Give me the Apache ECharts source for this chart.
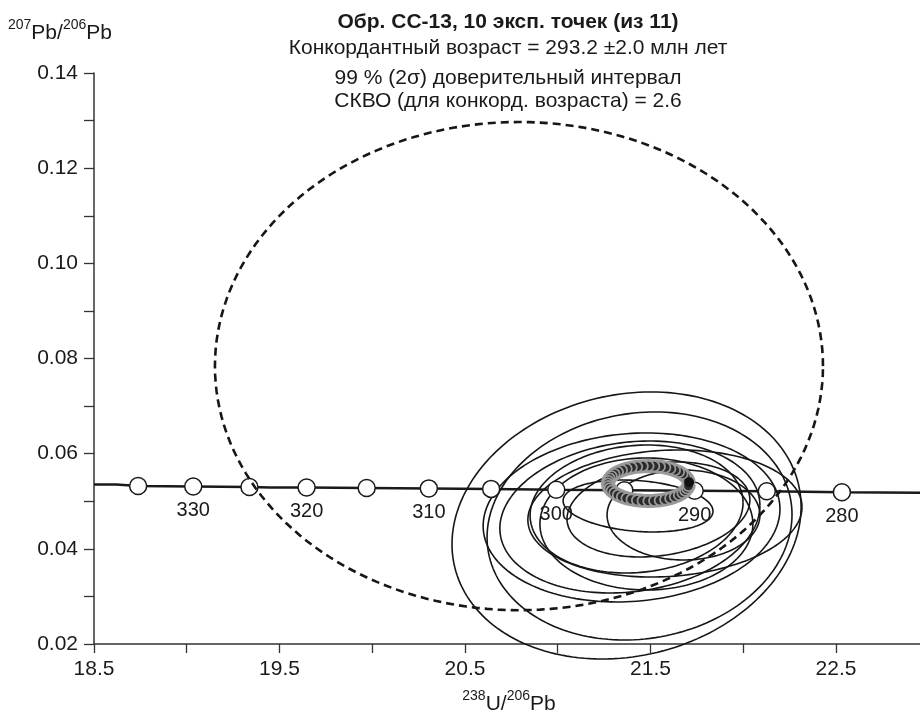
<!DOCTYPE html>
<html><head><meta charset="utf-8">
<script src="https://cdn.jsdelivr.net/npm/echarts@6.0.0/dist/echarts.min.js"></script>
<style>html,body{margin:0;padding:0;background:#fff}#c{width:920px;height:714px}</style>
</head><body><div id="c"></div><script>
const FONT = "'Liberation Sans', Arial, Helvetica, sans-serif";
const INK = '#1a1a1a';

const titleLines = [
  'Обр. CC-13, 10 эксп. точек (из 11)',
  'Конкордантный возраст = 293.2 ±2.0 млн лет',
  '99 % (2σ) доверительный интервал',
  'СКВО (для конкорд. возраста) = 2.6'
];
const xTickLabels = ['18.5', '19.5', '20.5', '21.5', '22.5'];
const yTickLabels = ['0.02', '0.04', '0.06', '0.08', '0.10', '0.12', '0.14'];

// concordia curve (238U/206Pb, 207Pb/206Pb)
const concordiaCurve = [
  [18.5, 0.0535], [18.62, 0.0535], [18.70, 0.0533], [18.738, 0.0532], [19.035, 0.0531],
  [19.338, 0.0530], [19.45, 0.0529], [19.646, 0.0529], [19.970, 0.0528], [20.305, 0.0527],
  [20.641, 0.0526], [20.992, 0.0524], [21.359, 0.0523], [21.738, 0.0522], [22.127, 0.0521],
  [22.532, 0.0519], [22.96, 0.0518]
];
// age markers on the concordia: [x, y, age Ma]
const concordiaMarkers = [
  [18.738, 0.0532, 335], [19.035, 0.0531, 330], [19.338, 0.0530, 325], [19.646, 0.0529, 320],
  [19.970, 0.0528, 315], [20.305, 0.0527, 310], [20.641, 0.0526, 305], [20.992, 0.0524, 300],
  [21.359, 0.0523, 295], [21.738, 0.0522, 290], [22.127, 0.0521, 285], [22.532, 0.0519, 280]
];
const labeledAges = [330, 320, 310, 300, 290, 280];

// analysis error ellipses: [centre x, centre y, half-width x, half-height y, rho]
const dataEllipses = [
  [21.371, 0.04491, 0.941, 0.02806, 0.14],
  [21.441, 0.04480, 0.822, 0.02396, 0.10],
  [21.398, 0.04659, 0.800, 0.01776, 0.10],
  [21.389, 0.04669, 0.701, 0.01597, 0.15],
  [21.578, 0.04743, 0.739, 0.01335, 0.10],
  [21.478, 0.04522, 0.574, 0.01387, 0.00],
  [21.543, 0.04827, 0.493, 0.00998, 0.20],
  [21.433, 0.04900, 0.404, 0.00546, -0.20],
  [21.678, 0.04711, 0.412, 0.00946, 0.00],
  [21.425, 0.04837, 0.574, 0.01345, 0.10]
];
// excluded analysis (dashed)
const rejectedEllipse = [[20.791, 0.0784, 1.639, 0.0513, 0.0]];
// concordia age ellipse
const ageEllipse = [[21.489, 0.05373, 0.218, 0.00368, 0.0]];
const agePoint = [[21.708, 0.0540]];

function ellipsePoints(api, cx, cy, ax, ay, rho, n) {
  const pts = [];
  const k = Math.sqrt(1 - rho * rho);
  for (let i = 0; i <= n; i++) {
    const t = 2 * Math.PI * i / n;
    pts.push(api.coord([cx + ax * Math.cos(t), cy + ay * (rho * Math.cos(t) + k * Math.sin(t))]));
  }
  return pts;
}
function ellipseRenderer(stroke, width, dash) {
  return function (params, api) {
    const pts = ellipsePoints(api, api.value(0), api.value(1), api.value(2), api.value(3), api.value(4), 180);
    return {
      type: 'polyline',
      shape: { points: pts },
      style: { fill: null, stroke: stroke, lineWidth: width, lineDash: dash || null }
    };
  };
}

const chart = echarts.init(document.getElementById('c'), null, { renderer: 'canvas' });

const sup = { fontSize: 14, fontFamily: FONT, color: INK, verticalAlign: 'top', lineHeight: 26 };
const base = { fontSize: 21, fontFamily: FONT, color: INK, verticalAlign: 'bottom', lineHeight: 26 };

const titleY = [22, 48, 78, 101];
const graphics = titleLines.map((t, i) => ({
  type: 'text', x: 508, y: titleY[i],
  style: {
    text: t, fontSize: 21, fontWeight: i === 0 ? 'bold' : 'normal', fontFamily: FONT,
    fill: INK, align: 'center', verticalAlign: 'middle', textAlign: 'center', textVerticalAlign: 'middle'
  }
}));
graphics.push({
  type: 'text', x: 8, y: 18,
  style: { text: '{s|207}{b|Pb/}{s|206}{b|Pb}', rich: { s: sup, b: base }, fill: INK }
});
graphics.push({
  type: 'text', x: 509, y: 689,
  style: { text: '{s|238}{b|U/}{s|206}{b|Pb}', rich: { s: sup, b: base }, fill: INK, align: 'center', textAlign: 'center' }
});

chart.setOption({
  animation: false,
  backgroundColor: '#fff',
  grid: { left: 94, right: 0, top: 73, bottom: 70, containLabel: false },
  xAxis: {
    type: 'value', min: 18.5, max: 22.953, interval: 0.5,
    axisLine: { show: true, lineStyle: { color: '#333', width: 1.5 } },
    axisTick: { show: true, length: 9, inside: false, lineStyle: { color: '#333', width: 1.3 } },
    splitLine: { show: false },
    axisLabel: {
      interval: 0, margin: 15, fontSize: 21, fontFamily: FONT, color: INK, hideOverlap: false,
      showMaxLabel: false,
      formatter: v => { const s = v.toFixed(1); return (xTickLabels.includes(s) && Math.abs(v - parseFloat(s)) < 1e-6) ? s : ''; }
    }
  },
  yAxis: {
    type: 'value', min: 0.02, max: 0.14, interval: 0.01,
    axisLine: { show: true, lineStyle: { color: '#333', width: 1.5 } },
    axisTick: { show: true, length: 10, inside: false, lineStyle: { color: '#333', width: 1.3 } },
    splitLine: { show: false },
    axisLabel: {
      interval: 0, margin: 16, fontSize: 21, fontFamily: FONT, color: INK, hideOverlap: false,
      formatter: v => { const s = v.toFixed(2); return yTickLabels.includes(s) ? s : ''; }
    }
  },
  graphic: graphics,
  series: [
    {
      type: 'line', data: concordiaCurve, symbol: 'none', silent: true, z: 2,
      lineStyle: { color: INK, width: 2.5 }
    },
    {
      type: 'custom', data: dataEllipses, renderItem: ellipseRenderer('#161616', 1.6), clip: false, silent: true, z: 3
    },
    {
      type: 'scatter', data: concordiaMarkers, symbol: 'circle', symbolSize: 17, silent: true, z: 4,
      itemStyle: { color: '#fff', borderColor: INK, borderWidth: 1.5, opacity: 1 },
      label: {
        show: true, position: 'bottom', distance: 5, fontSize: 20, fontFamily: FONT, color: INK,
        formatter: p => labeledAges.includes(p.value[2]) ? String(p.value[2]) : ''
      }
    },
    {
      type: 'custom', data: rejectedEllipse, renderItem: ellipseRenderer('#161616', 2.6, [8, 5]), clip: false, silent: true, z: 5
    },
    {
      type: 'custom', data: ageEllipse, clip: false, silent: true, z: 6,
      renderItem: function (params, api) {
        const pts = ellipsePoints(api, api.value(0), api.value(1), api.value(2), api.value(3), api.value(4), 44);
        const children = [{
          type: 'polyline', shape: { points: pts },
          style: { fill: null, stroke: '#9a9a9a', lineWidth: 14 }
        }];
        for (let i = 0; i < pts.length - 1; i++) {
          children.push({
            type: 'circle', shape: { cx: pts[i][0], cy: pts[i][1], r: 5.2 },
            style: { fill: '#2b2b2b', stroke: '#9a9a9a', lineWidth: 1.8 }
          });
        }
        return { type: 'group', children: children };
      }
    },
    {
      type: 'scatter', data: agePoint, symbol: 'circle', symbolSize: 10, silent: true, z: 7,
      itemStyle: { color: '#111', opacity: 1 }
    }
  ]
});
</script></body></html>
